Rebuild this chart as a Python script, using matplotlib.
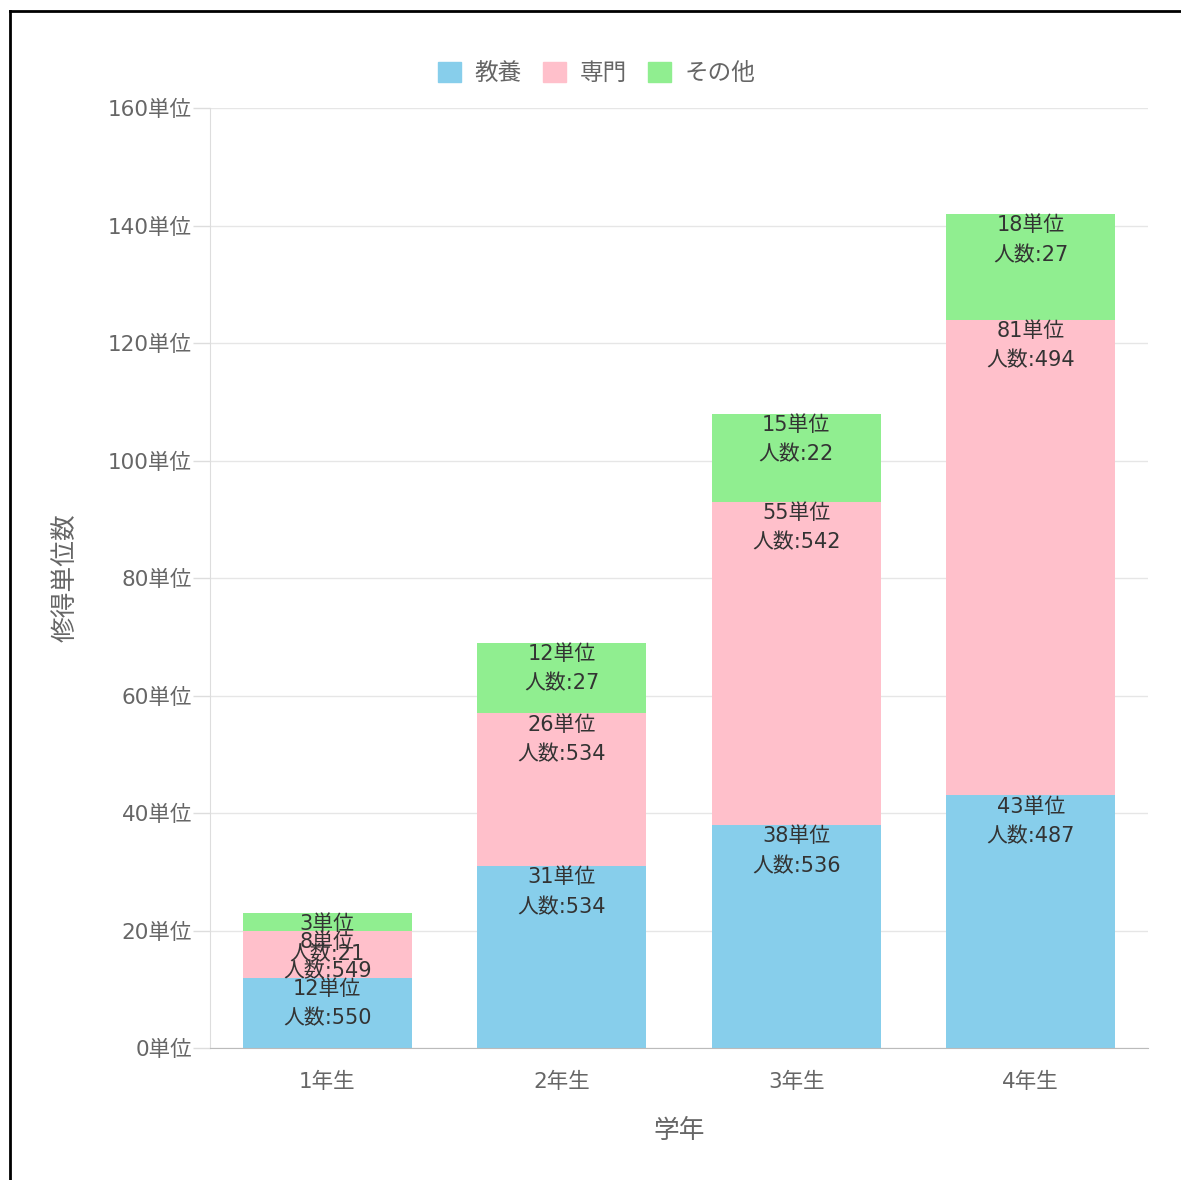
import matplotlib
matplotlib.use('Agg')
import matplotlib.pyplot as plt
from matplotlib.lines import Line2D
import numpy as np

# wide latin digits from DejaVu, Japanese glyphs from Noto CJK
plt.rcParams['font.family'] = ['DejaVu Sans', 'Noto Sans CJK JP']

grades = ['1年生', '2年生', '3年生', '4年生']
categories = ['教養', '専門', 'その他']
credits = {
    '教養': [12, 31, 38, 43],
    '専門': [8, 26, 55, 81],
    'その他': [3, 12, 15, 18],
}
students = {
    '教養': [550, 534, 536, 487],
    '専門': [549, 534, 542, 494],
    'その他': [21, 27, 22, 27],
}
colors = {'教養': '#87CEEB', '専門': '#FFC0CB', 'その他': '#90EE90'}
yticks = [0, 20, 40, 60, 80, 100, 120, 140, 160]

W, H = 1181, 1180
fig = plt.figure(figsize=(W / 100, H / 100), dpi=100)
ax = fig.add_axes([210 / W, 1 - 1048 / H, (1148 - 210) / W, (1048 - 108) / H])

x = np.arange(len(grades))
bottom = np.zeros(len(grades))
for cat in categories:
    vals = np.array(credits[cat], dtype=float)
    ax.bar(x, vals, bottom=bottom, width=0.72, color=colors[cat], label=cat, zorder=2)
    tops = bottom + vals
    for i in range(len(grades)):
        ax.annotate('{}単位\n人数:{}'.format(credits[cat][i], students[cat][i]),
                    xy=(x[i], tops[i]), xytext=(0, -1), textcoords='offset points',
                    ha='center', va='top', fontsize=15, color='#333333',
                    linespacing=1.6, zorder=3)
    bottom = tops

ax.set_xlim(-0.5, len(grades) - 0.5)
ax.set_ylim(0, 160)
ax.set_yticks(yticks)
ax.set_yticklabels(['{}単位'.format(v) for v in yticks])
ax.set_xticks(x)
ax.set_xticklabels(grades)
ax.tick_params(axis='y', colors='#666666', labelsize=15.5, length=12, width=1, pad=1)
ax.tick_params(axis='y', color='#dddddd')
ax.tick_params(axis='x', colors='#666666', labelsize=15.5, length=0, pad=17)
ax.grid(axis='y', color='#e6e6e6', linewidth=1, zorder=0)
for s in ['top', 'right']:
    ax.spines[s].set_visible(False)
ax.spines['left'].set_color('#dddddd')
ax.spines['bottom'].set_color('#bbbbbb')

ax.set_xlabel('学年', fontsize=18.5, color='#666666', labelpad=19)
ax.set_ylabel('修得単位数', fontsize=18.5, color='#666666', labelpad=21)

handles = [plt.Rectangle((0, 0), 1, 1, color=colors[c]) for c in categories]
fig.legend(handles, categories, loc='center', bbox_to_anchor=(597 / W, 1 - 73 / H),
           ncol=3, frameon=False, fontsize=17, handlelength=0.95, handleheight=0.95,
           handletextpad=0.6, columnspacing=0.9, labelcolor='#666666')

# outer frame of the screenshot
fig.add_artist(Line2D([10 / W, 1], [1 - 11 / H, 1 - 11 / H], color='black', linewidth=2))
fig.add_artist(Line2D([10 / W, 10 / W], [0, 1 - 11 / H], color='black', linewidth=2))

fig.savefig('out.png', dpi=100)
